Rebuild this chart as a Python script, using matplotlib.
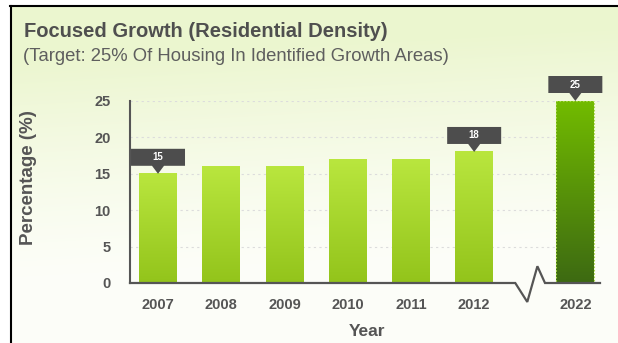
import matplotlib
matplotlib.use('Agg')
import matplotlib.pyplot as plt
import matplotlib.transforms as mtransforms
from matplotlib.colors import LinearSegmentedColormap
from matplotlib.patches import Polygon, Rectangle
from matplotlib.lines import Line2D
import numpy as np

plt.rcParams['font.family'] = ['Liberation Sans', 'DejaVu Sans']

# data
years = ['2007', '2008', '2009', '2010', '2011', '2012', '2022']
positions = [0, 1, 2, 3, 4, 5, 6.6]
values = [15, 16, 16, 17, 17, 18, 25]
labelled = [0, 5, 6]          # bars that get a value callout
yticks = [0, 5, 10, 15, 20, 25]

W, H = 618, 343
fig = plt.figure(figsize=(W / 100, H / 100), dpi=100)
fig.patch.set_facecolor('white')

# background panel: pale green fading to white towards the bottom
bg = fig.add_axes([0, 0, 1, 1])
bg.set_xlim(0, W)
bg.set_ylim(H, 0)
bg.axis('off')
yy = np.linspace(0, 1, 200)[:, None]
xx = np.linspace(0, 1, 200)[None, :]
t = np.clip(1.25 - 1.5 * yy - 0.15 * xx, 0, 1) ** 1.3
top = np.array([0.925, 0.965, 0.815])
bottom = np.array([0.992, 0.996, 0.975])
img = bottom + (top - bottom) * t[..., None]
bg.imshow(img, extent=(11, W, H, 6), aspect='auto', interpolation='bilinear')
fig.add_artist(Line2D([11 / W, 11 / W], [0, 1 - 6 / H], color='black', lw=1.5))
fig.add_artist(Line2D([10 / W, 1], [1 - 6 / H, 1 - 6 / H], color='black', lw=1.5))

fig.text(24 / W, 1 - 37 / H, 'Focused Growth (Residential Density)', fontsize=14.5,
         fontweight='bold', color='#4f4f4f')
fig.text(23 / W, 1 - 61 / H, '(Target: 25% Of Housing In Identified Growth Areas)',
         fontsize=13.3, color='#5e5e5e')

# main axes
ax = fig.add_axes([130 / W, (H - 283) / H, 470 / W, 182 / H])
ax.patch.set_alpha(0)
xmin, xmax = -0.443, 6.99
ax.set_xlim(xmin, xmax)
ax.set_ylim(0, 25)

for s in ['top', 'right', 'bottom']:
    ax.spines[s].set_visible(False)
ax.spines['left'].set_color('#555555')
ax.spines['left'].set_linewidth(1.5)

ax.set_yticks(yticks)
ax.set_yticklabels([str(v) for v in yticks], fontsize=10.5, fontweight='bold', color='#555555')
ax.set_xticks(positions)
ax.set_xticklabels(years, fontsize=10.5, fontweight='bold', color='#555555')
ax.tick_params(axis='y', length=0, pad=14)
ax.tick_params(axis='x', length=0, pad=11)

for v in yticks[1:]:
    ax.axhline(v, color='#dcdcdc', lw=0.8, ls=(0, (2, 3)), zorder=1)

ax.set_ylabel('Percentage (%)', fontsize=13.5, fontweight='bold', color='#555555')
ax.yaxis.set_label_coords(-0.198, 0.58)
ax.set_xlabel('Year', fontsize=12.5, fontweight='bold', color='#555555')
ax.xaxis.set_label_coords(0.504, -0.225)

# gradient bars
bar_w = 0.6
light_cmap = LinearSegmentedColormap.from_list('light', ['#93c41b', '#b9e63e'])
dark_cmap = LinearSegmentedColormap.from_list('dark', ['#3d6a12', '#72bb00'])
grad = np.linspace(0, 1, 100)[:, None]
for i, (x, v) in enumerate(zip(positions, values)):
    cmap = dark_cmap if years[i] == '2022' else light_cmap
    ax.imshow(grad, cmap=cmap, origin='lower', aspect='auto',
              extent=(x - bar_w / 2, x + bar_w / 2, 0, v), zorder=2)
    if years[i] == '2022':
        ax.add_patch(Rectangle((x - bar_w / 2, 0), bar_w, v, fill=False,
                               ec='#a8d84a', lw=0.8, ls=(0, (1.5, 1.5)), zorder=3))
ax.set_xlim(xmin, xmax)
ax.set_ylim(0, 25)

# x axis with a break before the projected year, drawn on top of everything
brk_x = [xmin, 5.65, 5.84, 6.0, 6.12, xmax]
brk_y = [0, 0, -2.6, 2.3, 0, 0]
fig.add_artist(Line2D(brk_x, brk_y, transform=ax.transData, color='#555555', lw=1.6,
                      solid_joinstyle='miter', zorder=10))

# value callouts (shape in pixels, anchored at the bar top)
shape = [(-27, 25), (27, 25), (27, 8), (6, 8), (0, 0), (-6, 8), (-27, 8)]
for i in labelled:
    x, v = positions[i], values[i]
    tr = mtransforms.Affine2D() + mtransforms.ScaledTranslation(x, v, ax.transData)
    ax.add_patch(Polygon(shape, closed=True, transform=tr, fc='#4d4d4d', ec='none',
                         clip_on=False, zorder=5))
    off = mtransforms.offset_copy(ax.transData, fig=fig, x=0, y=16.5 * 0.72, units='points')
    ax.text(x, v, str(v), transform=off, ha='center', va='center', fontsize=7,
            fontweight='bold', color='white', zorder=6, clip_on=False)

fig.savefig('out.png', dpi=100)
